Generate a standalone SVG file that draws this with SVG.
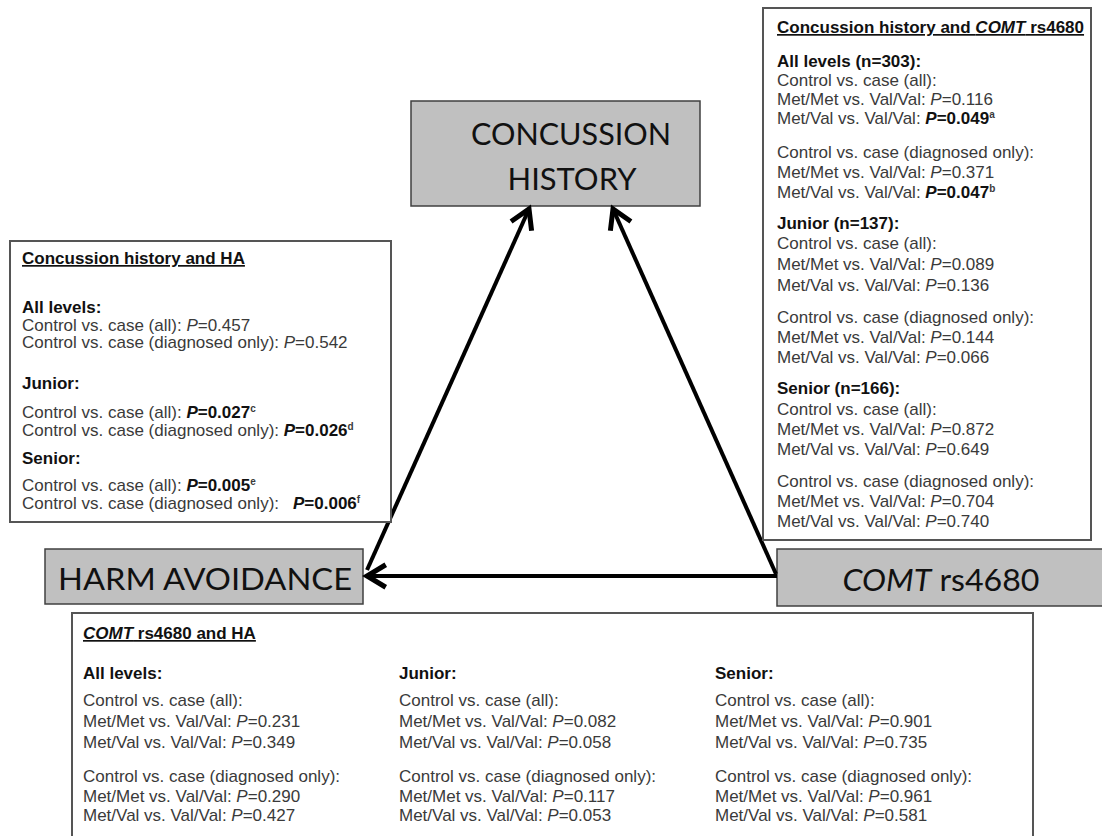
<svg xmlns="http://www.w3.org/2000/svg" width="1102" height="836" viewBox="0 0 1102 836">
<defs>
<style>
.t{font-family:"Liberation Sans",Arial,sans-serif;font-size:17px;fill:#3a3a3a}
.b{font-weight:bold;fill:#111}
.u{text-decoration:underline}
.i{font-style:italic}
.sup{font-size:10px;font-weight:bold}
.box{fill:#fff;stroke:#555;stroke-width:2}
.node{fill:#c0c0c0;stroke:#404040;stroke-width:1.5}
.lbl{font-family:Lato,"Open Sans",sans-serif;font-size:30px;fill:#111;text-anchor:middle}
.con{stroke:#000;stroke-width:4;fill:none;marker-end:url(#arr)}
</style>
<marker id="arr" markerUnits="userSpaceOnUse" markerWidth="30" markerHeight="30" viewBox="-20 -12 24 24" refX="0" refY="0" orient="auto">
<path d="M-15,-9 L0,0 L-15,9" fill="none" stroke="#000" stroke-width="4" stroke-linejoin="miter"/>
</marker>
</defs>
<rect width="1102" height="836" fill="#fff"/>

<g id="concussion-history">
<rect class="node" x="411" y="101" width="289" height="105"/>
<text class="lbl" x="571" y="145" textLength="200" lengthAdjust="spacingAndGlyphs">CONCUSSION</text>
<text class="lbl" x="572" y="190" textLength="129" lengthAdjust="spacingAndGlyphs">HISTORY</text>
</g>

<g id="harm-avoidance">
<rect class="node" x="45" y="549" width="318" height="55"/>
<text class="lbl" x="205" y="590" textLength="294" lengthAdjust="spacingAndGlyphs">HARM AVOIDANCE</text>
</g>

<g id="comt">
<rect class="node" x="777" y="549" width="330" height="57"/>
<text class="lbl" x="941" y="591" textLength="197" lengthAdjust="spacingAndGlyphs"><tspan font-style="italic">COMT</tspan> rs4680</text>
</g>

<g id="connectors">
<line class="con" x1="367" y1="570" x2="529" y2="209"/>
<line class="con" x1="776" y1="574" x2="613" y2="209"/>
<line class="con" x1="777" y1="576" x2="367" y2="576"/>
</g>

<g id="box-ch-comt">
<rect class="box" x="763" y="8" width="328" height="532"/>
<text class="t b u" x="777" y="33">Concussion history and <tspan class="i">COMT</tspan> rs4680</text>
<text class="t b" x="777" y="67">All levels (n=303):</text>
<text class="t" x="777" y="86">Control vs. case (all):</text>
<text class="t" x="777" y="105">Met/Met vs. Val/Val: <tspan class="i">P</tspan>=0.116</text>
<text class="t" x="777" y="124">Met/Val vs. Val/Val: <tspan class="b"><tspan class="i">P</tspan>=0.049</tspan><tspan class="sup" dy="-6">a</tspan></text>
<text class="t" x="777" y="158">Control vs. case (diagnosed only):</text>
<text class="t" x="777" y="178">Met/Met vs. Val/Val: <tspan class="i">P</tspan>=0.371</text>
<text class="t" x="777" y="198">Met/Val vs. Val/Val: <tspan class="b"><tspan class="i">P</tspan>=0.047</tspan><tspan class="sup" dy="-6">b</tspan></text>
<text class="t b" x="777" y="229">Junior (n=137):</text>
<text class="t" x="777" y="249">Control vs. case (all):</text>
<text class="t" x="777" y="270">Met/Met vs. Val/Val: <tspan class="i">P</tspan>=0.089</text>
<text class="t" x="777" y="291">Met/Val vs. Val/Val: <tspan class="i">P</tspan>=0.136</text>
<text class="t" x="777" y="323">Control vs. case (diagnosed only):</text>
<text class="t" x="777" y="343">Met/Met vs. Val/Val: <tspan class="i">P</tspan>=0.144</text>
<text class="t" x="777" y="363">Met/Val vs. Val/Val: <tspan class="i">P</tspan>=0.066</text>
<text class="t b" x="777" y="394">Senior (n=166):</text>
<text class="t" x="777" y="415">Control vs. case (all):</text>
<text class="t" x="777" y="435">Met/Met vs. Val/Val: <tspan class="i">P</tspan>=0.872</text>
<text class="t" x="777" y="455">Met/Val vs. Val/Val: <tspan class="i">P</tspan>=0.649</text>
<text class="t" x="777" y="487">Control vs. case (diagnosed only):</text>
<text class="t" x="777" y="507">Met/Met vs. Val/Val: <tspan class="i">P</tspan>=0.704</text>
<text class="t" x="777" y="527">Met/Val vs. Val/Val: <tspan class="i">P</tspan>=0.740</text>
</g>

<g id="box-ch-ha">
<rect class="box" x="10" y="241" width="381" height="281"/>
<text class="t b u" x="22" y="264">Concussion history and HA</text>
<text class="t b" x="22" y="313">All levels:</text>
<text class="t" x="22" y="331">Control vs. case (all): <tspan class="i">P</tspan>=0.457</text>
<text class="t" x="22" y="348">Control vs. case (diagnosed only): <tspan class="i">P</tspan>=0.542</text>
<text class="t b" x="22" y="389">Junior:</text>
<text class="t" x="22" y="418">Control vs. case (all): <tspan class="b"><tspan class="i">P</tspan>=0.027</tspan><tspan class="sup" dy="-6">c</tspan></text>
<text class="t" x="22" y="436">Control vs. case (diagnosed only): <tspan class="b"><tspan class="i">P</tspan>=0.026</tspan><tspan class="sup" dy="-6">d</tspan></text>
<text class="t b" x="22" y="464">Senior:</text>
<text class="t" x="22" y="491">Control vs. case (all): <tspan class="b"><tspan class="i">P</tspan>=0.005</tspan><tspan class="sup" dy="-6">e</tspan></text>
<text class="t" x="22" y="509">Control vs. case (diagnosed only): <tspan class="b" x="293"><tspan class="i">P</tspan>=0.006</tspan><tspan class="sup" dy="-6">f</tspan></text>
</g>

<g id="box-comt-ha">
<rect class="box" x="72" y="613" width="961" height="240"/>
<text class="t b u" x="83" y="639"><tspan class="i">COMT</tspan> rs4680 and HA</text>
<text class="t b" x="83" y="679">All levels:</text>
<text class="t" x="83" y="706">Control vs. case (all):</text>
<text class="t" x="83" y="727">Met/Met vs. Val/Val: <tspan class="i">P</tspan>=0.231</text>
<text class="t" x="83" y="748">Met/Val vs. Val/Val: <tspan class="i">P</tspan>=0.349</text>
<text class="t" x="83" y="782">Control vs. case (diagnosed only):</text>
<text class="t" x="83" y="802">Met/Met vs. Val/Val: <tspan class="i">P</tspan>=0.290</text>
<text class="t" x="83" y="821">Met/Val vs. Val/Val: <tspan class="i">P</tspan>=0.427</text>
<text class="t b" x="399" y="679">Junior:</text>
<text class="t" x="399" y="706">Control vs. case (all):</text>
<text class="t" x="399" y="727">Met/Met vs. Val/Val: <tspan class="i">P</tspan>=0.082</text>
<text class="t" x="399" y="748">Met/Val vs. Val/Val: <tspan class="i">P</tspan>=0.058</text>
<text class="t" x="399" y="782">Control vs. case (diagnosed only):</text>
<text class="t" x="399" y="802">Met/Met vs. Val/Val: <tspan class="i">P</tspan>=0.117</text>
<text class="t" x="399" y="821">Met/Val vs. Val/Val: <tspan class="i">P</tspan>=0.053</text>
<text class="t b" x="715" y="679">Senior:</text>
<text class="t" x="715" y="706">Control vs. case (all):</text>
<text class="t" x="715" y="727">Met/Met vs. Val/Val: <tspan class="i">P</tspan>=0.901</text>
<text class="t" x="715" y="748">Met/Val vs. Val/Val: <tspan class="i">P</tspan>=0.735</text>
<text class="t" x="715" y="782">Control vs. case (diagnosed only):</text>
<text class="t" x="715" y="802">Met/Met vs. Val/Val: <tspan class="i">P</tspan>=0.961</text>
<text class="t" x="715" y="821">Met/Val vs. Val/Val: <tspan class="i">P</tspan>=0.581</text>
</g>
</svg>
